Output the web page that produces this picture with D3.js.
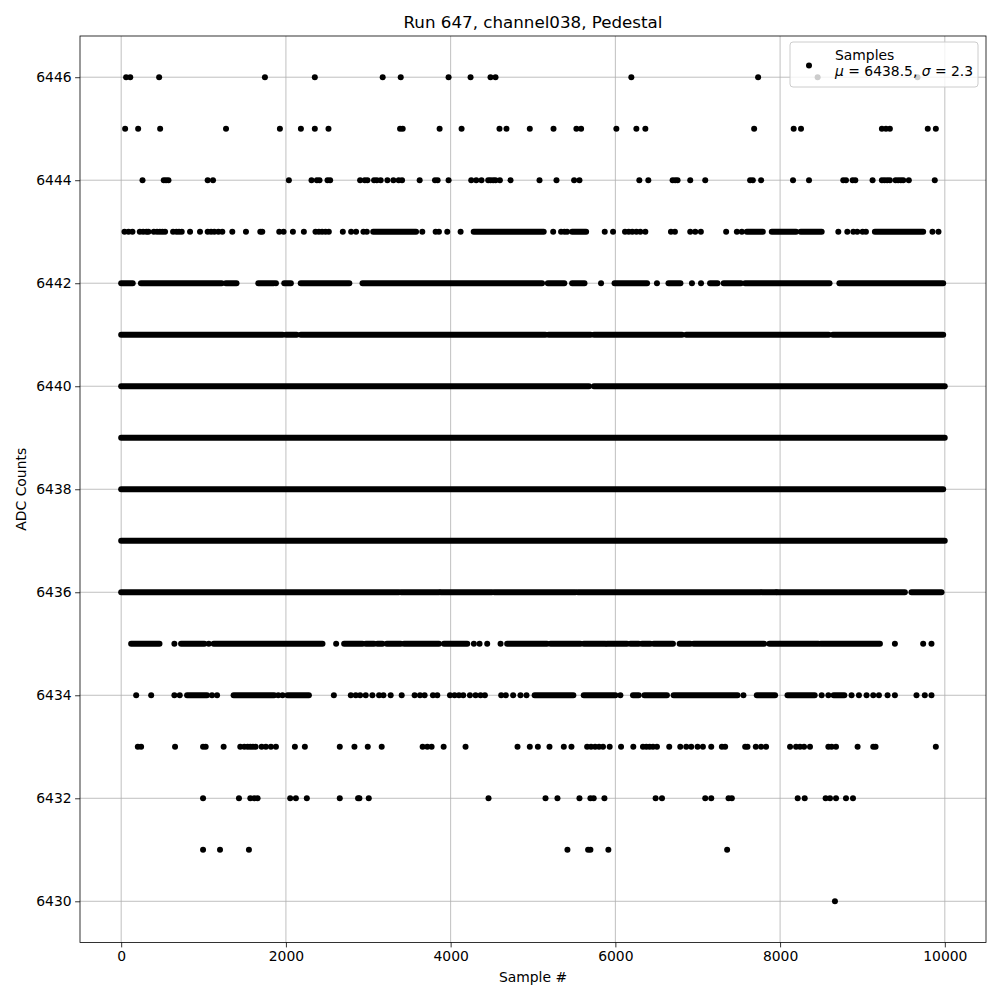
<!DOCTYPE html>
<html>
<head>
<meta charset="utf-8">
<script src="https://cdn.jsdelivr.net/npm/d3@7"></script>
<style>
  body { margin: 0; background: #fff; }
  text { font-family: "DejaVu Sans", sans-serif; }
</style>
</head>
<body>
<svg id="chart" width="1000" height="1000"></svg>
<script>
// ---- tick labels ----
const xTicks = [0, 2000, 4000, 6000, 8000, 10000];
const yTicks = [6430, 6432, 6434, 6436, 6438, 6440, 6442, 6444, 6446];

// ---- isolated samples per ADC level (sample #) ----
const pts6446 = [60, 110, 461, 1745, 2351, 3175, 3394, 3975, 4242, 4484, 4545, 6194, 7733, 8456, 9668];
const pts6445 = [48, 206, 473, 1273, 1927, 2182, 2351, 2517, 3386, 3418, 3866, 4133, 4593, 4678, 4961, 5249, 5527, 5584, 6012, 6255, 6364, 7685, 8165, 8254, 9236, 9285, 9333, 9793, 9891];
const pts6444 = [259, 517, 545, 574, 1050, 1115, 2036, 2311, 2376, 2408, 2505, 2537, 2901, 2957, 2990, 3070, 3103, 3151, 3232, 3305, 3369, 3410, 3624, 3810, 3842, 3975, 4250, 4311, 4375, 4456, 4484, 4517, 4545, 4598, 4727, 5079, 5285, 5499, 5564, 6291, 6400, 6695, 6727, 6755, 6909, 7091, 7636, 7669, 7770, 8157, 8351, 8767, 8800, 8881, 8913, 9123, 9236, 9268, 9301, 9333, 9402, 9434, 9466, 9495, 9563, 9878];
const pts6443 = [40, 89, 137, 226, 267, 307, 331, 396, 436, 469, 501, 533, 630, 671, 703, 735, 836, 957, 1050, 1091, 1131, 1180, 1228, 1349, 1515, 1689, 1713, 1919, 1972, 2085, 2218, 2359, 2400, 2440, 2481, 2521, 2691, 2792, 2852, 2941, 2982, 3656, 3818, 3858, 3959, 4121, 5245, 5341, 5382, 5414, 5871, 5972, 6117, 6162, 6206, 6255, 6303, 6364, 6675, 6723, 6909, 6970, 7038, 7345, 7475, 7535, 8707, 8816, 8889, 8937, 9002, 9042, 9850, 9923];
const pts6442 = [1879, 5826, 6505, 6930, 7040];
const pts6435 = [646, 1063, 2610, 4282, 4351, 4444, 4606, 9394, 9737, 9838];
const pts6434 = [182, 364, 646, 711, 1103, 1164, 1907, 1959, 2582, 2788, 2848, 2901, 2969, 3050, 3131, 3184, 3272, 3406, 3563, 3628, 3684, 3785, 3838, 3992, 4048, 4101, 4153, 4234, 4303, 4363, 4416, 4614, 4670, 4759, 4848, 4921, 6061, 7555, 8505, 8586, 8868, 8957, 9050, 9131, 9200, 9305, 9394, 9656, 9757, 9838];
const pts6433 = [202, 242, 654, 994, 1026, 1244, 1446, 1495, 1535, 1568, 1600, 1632, 1705, 1757, 1818, 1879, 2109, 2230, 2654, 2832, 2994, 3163, 3660, 3717, 3769, 3915, 4181, 4812, 4961, 5059, 5200, 5374, 5467, 5657, 5705, 5754, 5802, 5850, 5931, 6069, 6218, 6335, 6376, 6416, 6457, 6505, 6654, 6788, 6861, 6921, 6998, 7063, 7164, 7293, 7333, 7576, 7604, 7705, 7770, 7830, 8121, 8194, 8242, 8291, 8363, 8586, 8626, 8679, 8941, 9131, 9159, 9891];
const pts6432 = [994, 1430, 1568, 1616, 1656, 2052, 2121, 2254, 2654, 2876, 2892, 3006, 4460, 5152, 5297, 5564, 5697, 5737, 5867, 6489, 6566, 7091, 7164, 7374, 7414, 8214, 8299, 8553, 8606, 8679, 8800, 8885];
const pts6431 = [994, 1200, 1551, 5418, 5669, 5697, 5915, 7357];
const pts6430 = [8666];

// ---- runs of consecutive samples (too dense to separate) per level: [first, last] ----
const runs6443 = [[3060, 3580], [4280, 5130], [5475, 5645], [7596, 7790], [7899, 8194], [8250, 8505], [9151, 9737]];
const runs6442 = [[0, 140], [240, 1220], [1270, 1400], [1665, 1850], [1980, 2060], [2180, 2770], [2930, 5110], [5180, 5380], [5475, 5625], [5990, 6385], [6645, 6790], [7150, 7240], [7315, 7525], [7575, 8600], [8720, 9980]];
const runs6441 = [[0, 1960], [2000, 2130], [2180, 5150], [5190, 5700], [5740, 6810], [6860, 8590], [8640, 9980]];
const runs6440 = [[0, 5680], [5740, 9999]];
const runs6439 = [[0, 9999]];
const runs6438 = [[0, 9980]];
const runs6437 = [[0, 9999]];
const runs6436 = [[0, 3370], [3400, 3860], [3880, 4500], [4530, 5515], [5545, 7760], [7780, 7950], [7960, 9515], [9595, 9960]];
const runs6435 = [[121, 465], [727, 1010], [1123, 2444], [2707, 2929], [2970, 3070], [3111, 3171], [3224, 3394], [3434, 3858], [3919, 4202], [4686, 5170], [5212, 5576], [5616, 5879], [5899, 6141], [6182, 6283], [6323, 6424], [6465, 6699], [6780, 6909], [6950, 7806], [7870, 8464], [8493, 9212]];
const runs6434 = [[800, 1042], [1365, 1858], [2020, 2279], [5020, 5490], [5616, 6000], [6214, 6283], [6352, 6626], [6707, 7483], [7717, 7939], [8090, 8420], [8650, 8780]];

const pointSets = [[6446, pts6446], [6445, pts6445], [6444, pts6444], [6443, pts6443], [6442, pts6442], [6435, pts6435], [6434, pts6434], [6433, pts6433], [6432, pts6432], [6431, pts6431], [6430, pts6430]];
const runSets = [[6443, runs6443], [6442, runs6442], [6441, runs6441], [6440, runs6440], [6439, runs6439], [6438, runs6438], [6437, runs6437], [6436, runs6436], [6435, runs6435], [6434, runs6434]];

const points = pointSets.flatMap(([lv, arr]) => arr.map(s => ({ s, lv })));
const runs = runSets.flatMap(([lv, arr]) => arr.map(([a, b]) => ({ a, b, lv })));

// ---- layout ----
const L = 80, R = 986, T = 36, B = 942.5;
const svg = d3.select("#chart");
const x = d3.scaleLinear().domain([-500, 10500]).range([L, R]);
const y = d3.scaleLinear().domain([6429.2, 6446.8]).range([B, T]);
const grid = "#b0b0b0";

// grid
svg.append("g").selectAll("line").data(xTicks).join("line")
  .attr("x1", d => x(d)).attr("x2", d => x(d)).attr("y1", T).attr("y2", B)
  .attr("stroke", grid).attr("stroke-width", 0.8);
svg.append("g").selectAll("line").data(yTicks).join("line")
  .attr("y1", d => y(d)).attr("y2", d => y(d)).attr("x1", L).attr("x2", R)
  .attr("stroke", grid).attr("stroke-width", 0.8);

// clip
svg.append("clipPath").attr("id", "clip").append("rect")
  .attr("x", L).attr("y", T).attr("width", R - L).attr("height", B - T);
const plot = svg.append("g").attr("clip-path", "url(#clip)");

plot.append("g").selectAll("line").data(runs).join("line")
  .attr("x1", d => x(d.a)).attr("x2", d => x(d.b))
  .attr("y1", d => y(d.lv)).attr("y2", d => y(d.lv))
  .attr("stroke", "#000").attr("stroke-width", 6).attr("stroke-linecap", "round");

plot.append("g").selectAll("circle").data(points).join("circle")
  .attr("cx", d => x(d.s)).attr("cy", d => y(d.lv)).attr("r", 3).attr("fill", "#000");

// axes
const xAxis = d3.axisBottom(x).tickValues(xTicks).tickSize(4.9).tickPadding(4).tickFormat(d3.format("d"));
const yAxis = d3.axisLeft(y).tickValues(yTicks).tickSize(4.9).tickPadding(3.5).tickFormat(d3.format("d"));
const gx = svg.append("g").attr("transform", `translate(0,${B})`).call(xAxis);
const gy = svg.append("g").attr("transform", `translate(${L},0)`).call(yAxis);
[gx, gy].forEach(g => {
  g.select(".domain").remove();
  g.selectAll("line").attr("stroke", "#000").attr("stroke-width", 0.8);
  g.selectAll("text").attr("font-family", "DejaVu Sans").attr("font-size", 13.9).attr("fill", "#000");
});

// frame
svg.append("rect").attr("x", L).attr("y", T).attr("width", R - L).attr("height", B - T)
  .attr("fill", "none").attr("stroke", "#000").attr("stroke-width", 0.8);

// titles
svg.append("text").attr("x", (L + R) / 2).attr("y", 27.5).attr("text-anchor", "middle")
  .attr("font-size", 16.7).text("Run 647, channel038, Pedestal");
svg.append("text").attr("x", (L + R) / 2).attr("y", 982).attr("text-anchor", "middle")
  .attr("font-size", 13.9).text("Sample #");
svg.append("text").attr("transform", `translate(26,${(T + B) / 2}) rotate(-90)`).attr("text-anchor", "middle")
  .attr("font-size", 13.9).text("ADC Counts");

// legend
const lg = svg.append("g");
lg.append("rect").attr("x", 790).attr("y", 42).attr("width", 188).attr("height", 45).attr("rx", 3)
  .attr("fill", "#fff").attr("fill-opacity", 0.8).attr("stroke", "#cccccc").attr("stroke-width", 1);
lg.append("circle").attr("cx", 809).attr("cy", 65.5).attr("r", 3).attr("fill", "#000");
lg.append("text").attr("x", 835).attr("y", 59.5).attr("font-size", 13.9).text("Samples");
const t2 = lg.append("text").attr("x", 835).attr("y", 76).attr("font-size", 13.9);
t2.append("tspan").attr("font-style", "italic").text("μ");
t2.append("tspan").text(" = 6438.5, ");
t2.append("tspan").attr("font-style", "italic").text("σ");
t2.append("tspan").text(" = 2.3");
</script>
</body>
</html>
